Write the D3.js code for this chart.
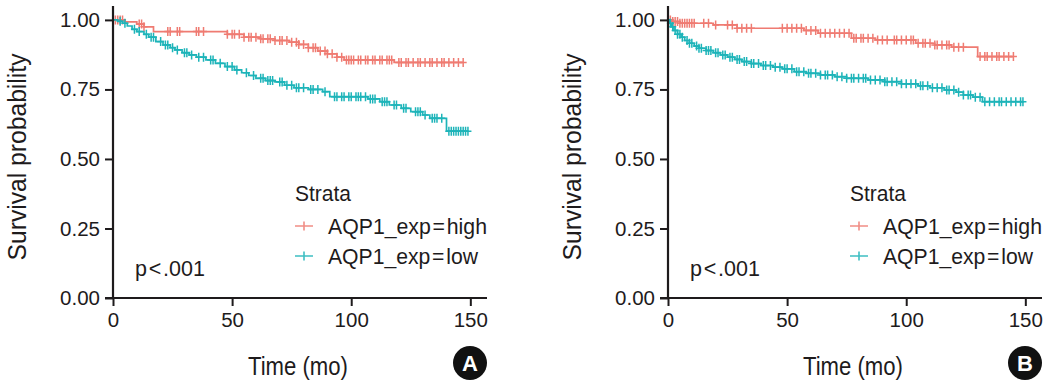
<!DOCTYPE html>
<html>
<head>
<meta charset="utf-8">
<script src="https://cdn.jsdelivr.net/npm/d3@7"></script>
<style>
  body { margin: 0; background: #fff; }
  svg text { font-family: "Liberation Sans", Arial, sans-serif; fill: #1e1b1c; }
</style>
</head>
<body>
<div id="chart"></div>
<script>
// survival steps (time in months, survival probability)
const highA_time = [0, 5, 10, 13, 17, 48, 55, 62, 68, 74, 78, 82, 86, 90, 94, 97, 118];
const highA_surv = [1.0, 0.993, 0.985, 0.975, 0.958, 0.948, 0.938, 0.932, 0.926, 0.920, 0.912, 0.900, 0.888, 0.878, 0.866, 0.856, 0.847];
const highA_end = 147;
const highA_censor = [1, 2, 3, 4, 11, 12, 13, 23, 24, 27, 28, 35, 36, 38, 48, 50, 51, 53, 55, 57, 58, 60, 62, 63, 65, 66, 68, 70, 71, 73, 75, 77, 78, 80, 82, 84, 85, 87, 89, 90, 92, 94, 96, 98, 99, 100, 101, 103, 104, 106, 107, 109, 110, 112, 113, 115, 116, 117, 120, 121, 123, 124, 126, 128, 129, 131, 133, 134, 136, 138, 139, 141, 143, 145, 147];

const lowA_time = [0, 2, 4, 6, 8, 10, 13, 15, 18, 21, 24, 26, 29, 32, 35, 39, 43, 47, 51, 54, 57, 60, 64, 68, 72, 76, 82, 88, 91, 107, 112, 116, 121, 125, 130, 133, 140];
const lowA_surv = [1.0, 0.995, 0.988, 0.978, 0.966, 0.958, 0.948, 0.938, 0.922, 0.910, 0.900, 0.892, 0.882, 0.874, 0.866, 0.856, 0.844, 0.832, 0.820, 0.810, 0.800, 0.790, 0.782, 0.777, 0.765, 0.756, 0.750, 0.742, 0.724, 0.716, 0.706, 0.694, 0.682, 0.670, 0.658, 0.646, 0.600];
const lowA_end = 149;
const lowA_censor = [3, 5, 9, 11, 14, 16, 17, 20, 22, 23, 25, 27, 30, 31, 33, 36, 38, 41, 42, 45, 48, 50, 52, 56, 59, 62, 63, 65, 66, 67, 70, 71, 73, 75, 77, 78, 80, 83, 84, 86, 89, 93, 94, 96, 97, 99, 100, 102, 103, 104, 106, 108, 109, 110, 113, 114, 115, 118, 119, 122, 123, 127, 128, 129, 131, 134, 135, 136, 138, 141, 142, 143, 144, 145, 146, 147, 148, 149];

const highB_time = [0, 2, 5, 19, 29, 57, 63, 77, 87, 104, 112, 119, 130];
const highB_surv = [1.0, 0.994, 0.988, 0.982, 0.970, 0.962, 0.952, 0.934, 0.928, 0.916, 0.910, 0.902, 0.868];
const highB_end = 145;
const highB_censor = [1, 2, 3, 4, 5, 6, 7, 8, 9, 10, 11, 15, 17, 20, 25, 27, 29, 31, 33, 35, 48, 50, 52, 54, 56, 58, 60, 62, 64, 66, 68, 70, 72, 74, 76, 78, 79, 81, 82, 84, 86, 88, 90, 92, 95, 96, 98, 100, 102, 103, 105, 107, 108, 110, 112, 113, 115, 117, 118, 120, 122, 124, 131, 133, 134, 136, 138, 139, 141, 143, 145];

const lowB_time = [0, 0.5, 1.5, 2.5, 4, 5.5, 7, 9, 11, 13, 16, 19, 22, 25, 28, 31, 35, 39, 44, 48, 53, 58, 64, 70, 75, 84, 91, 98, 105, 110, 116, 121, 124, 128, 132];
const lowB_surv = [1.0, 0.988, 0.975, 0.962, 0.948, 0.938, 0.926, 0.916, 0.906, 0.898, 0.890, 0.882, 0.874, 0.866, 0.858, 0.850, 0.843, 0.836, 0.830, 0.824, 0.814, 0.808, 0.802, 0.796, 0.790, 0.784, 0.778, 0.770, 0.763, 0.756, 0.748, 0.740, 0.730, 0.722, 0.706];
const lowB_end = 149;
const lowB_censor = [1, 2, 3, 4, 5, 6, 8, 9, 10, 12, 13, 14, 16, 17, 18, 20, 21, 23, 24, 26, 27, 29, 30, 32, 33, 35, 36, 38, 40, 41, 43, 45, 47, 49, 50, 52, 54, 55, 57, 59, 60, 62, 64, 66, 67, 69, 71, 73, 75, 77, 78, 80, 82, 83, 85, 87, 89, 91, 92, 94, 96, 98, 100, 102, 104, 106, 107, 109, 111, 113, 115, 117, 118, 120, 122, 124, 126, 127, 129, 131, 133, 135, 137, 139, 140, 142, 144, 146, 148, 149];

const xTicks = [0, 50, 100, 150];
const yTicks = [0, 0.25, 0.5, 0.75, 1.0];
const strata = ["AQP1_exp\u200a=\u200ahigh", "AQP1_exp\u200a=\u200alow"];
const colors = ["#ef7b72", "#1db4b9"];
const pText = "p\u200a<\u200a.001";

const width = 1048, height = 385;

const svg = d3.select("#chart").append("svg")
    .attr("width", width)
    .attr("height", height);

function drawPanel(offsetX, series, badge) {
    const g = svg.append("g").attr("transform", `translate(${offsetX},0)`);

    // panel spans a bit past the data like ggplot does
    const x = d3.scaleLinear().domain([-3.36, 157]).range([105, 487]);
    const y = d3.scaleLinear().domain([0, 1.05]).range([298, 6]);

    // curves
    series.forEach((s, i) => {
        const pts = s.time.map((t, k) => [t, s.surv[k]]);
        pts.push([s.end, s.surv[s.surv.length - 1]]);

        g.append("path")
            .attr("d", d3.line().x(d => x(d[0])).y(d => y(d[1])).curve(d3.curveStepAfter)(pts))
            .attr("fill", "none")
            .attr("stroke", colors[i])
            .attr("stroke-width", 1.7);

        const bis = d3.bisector(d => d).right;
        g.append("g").selectAll("path")
            .data(s.censor)
            .enter().append("path")
            .attr("transform", t => {
                const k = Math.max(0, bis(s.time, t) - 1);
                return `translate(${x(t)},${y(s.surv[k])})`;
            })
            .attr("d", "M-3.5,0H3.5M0,-4.5V4.5")
            .attr("stroke", colors[i])
            .attr("stroke-width", 1.5);
    });

    // axes
    const yAxis = g.append("g")
        .attr("transform", `translate(${x(0)},0)`)
        .call(d3.axisLeft(y).tickValues(yTicks).tickFormat(d3.format(".2f")).tickSize(8).tickPadding(5));
    const xAxis = g.append("g")
        .attr("transform", `translate(0,${y(0)})`)
        .call(d3.axisBottom(x).tickValues(xTicks).tickSize(8).tickPadding(6));

    [xAxis, yAxis].forEach(a => {
        a.select(".domain").remove();
        a.selectAll("line").attr("stroke", "#1e1b1c").attr("stroke-width", 2);
        a.selectAll("text").style("font-size", "20.5px").attr("fill", "#1e1b1c");
    });

    g.append("line")
        .attr("x1", x(0)).attr("x2", x(0))
        .attr("y1", y(1.05)).attr("y2", y(0))
        .attr("stroke", "#1e1b1c").attr("stroke-width", 2.2);
    g.append("line")
        .attr("x1", x.range()[0]).attr("x2", x.range()[1])
        .attr("y1", y(0)).attr("y2", y(0))
        .attr("stroke", "#1e1b1c").attr("stroke-width", 2.2);

    // axis titles
    g.append("text")
        .attr("transform", `translate(26,157) rotate(-90)`)
        .attr("text-anchor", "middle")
        .style("font-size", "26px")
        .attr("textLength", 207)
        .attr("lengthAdjust", "spacingAndGlyphs")
        .text("Survival probability");

    g.append("text")
        .attr("x", 298).attr("y", 375)
        .attr("text-anchor", "middle")
        .style("font-size", "26px")
        .attr("textLength", 100)
        .attr("lengthAdjust", "spacingAndGlyphs")
        .text("Time (mo)");

    // p value
    g.append("text")
        .attr("x", 135).attr("y", 276)
        .style("font-size", "22px")
        .attr("textLength", 70)
        .attr("lengthAdjust", "spacingAndGlyphs")
        .text(pText);

    // legend
    g.append("text")
        .attr("x", 295).attr("y", 201)
        .style("font-size", "22px")
        .attr("textLength", 56)
        .attr("lengthAdjust", "spacingAndGlyphs")
        .text("Strata");

    strata.forEach((name, i) => {
        const ly = 226 + i * 30;
        g.append("path")
            .attr("d", `M295,${ly}H313M304,${ly - 4.5}V${ly + 4.5}`)
            .attr("stroke", colors[i])
            .attr("stroke-width", 1.6)
            .attr("opacity", 0.85);
        g.append("text")
            .attr("x", 328).attr("y", ly + 7.5)
            .style("font-size", "22px")
            .attr("textLength", i === 0 ? 159 : 150)
            .attr("lengthAdjust", "spacingAndGlyphs")
            .text(name);
    });

    // panel badge
    g.append("circle")
        .attr("cx", 470).attr("cy", 363).attr("r", 17)
        .attr("fill", "#111");
    g.append("text")
        .attr("x", 470).attr("y", 371)
        .attr("text-anchor", "middle")
        .style("font-size", "22px")
        .style("font-weight", "bold")
        .style("fill", "#fff")
        .text(badge);
}

drawPanel(0, [
    { time: highA_time, surv: highA_surv, end: highA_end, censor: highA_censor },
    { time: lowA_time, surv: lowA_surv, end: lowA_end, censor: lowA_censor }
], "A");

drawPanel(555, [
    { time: highB_time, surv: highB_surv, end: highB_end, censor: highB_censor },
    { time: lowB_time, surv: lowB_surv, end: lowB_end, censor: lowB_censor }
], "B");
</script>
</body>
</html>
